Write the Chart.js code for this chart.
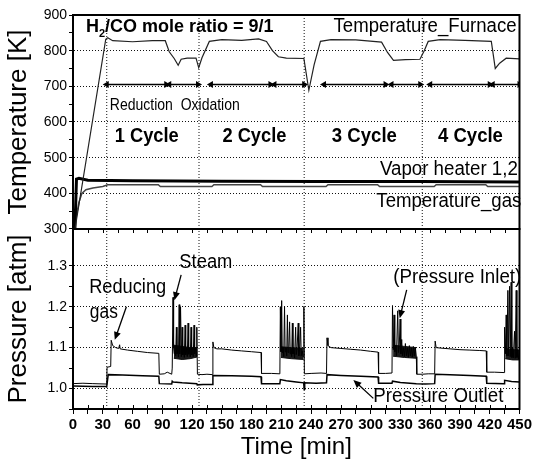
<!DOCTYPE html>
<html>
<head>
<meta charset="utf-8">
<title>H2/CO redox cycles</title>
<script src="https://cdn.jsdelivr.net/npm/chart.js@4.4.1/dist/chart.umd.min.js"></script>
<style>
  body { margin: 0; background: #fff; }
  canvas { display: block; }
</style>
</head>
<body>
<canvas id="chart" width="534" height="465"></canvas>
<script>
// [time min, value] pairs

// top panel, K
const furnaceTemp = [
  [0, 300], [2, 300], [33, 832], [35, 836], [40, 828], [60, 825], [80, 828], [93, 828],
  [97, 797], [102, 778], [106, 759], [109, 776], [115, 779], [124, 779], [126.7, 752],
  [130, 780], [137.4, 826], [150, 831], [170, 829], [187, 833], [195, 826], [201, 800],
  [207, 783], [215, 779], [232.7, 778], [237.7, 689], [243, 760], [249.4, 826], [260, 831],
  [285, 830], [311, 824], [317, 795], [323, 773], [335, 775], [349.7, 776], [354, 800],
  [358, 826], [370, 831], [395, 829], [421.6, 826], [425.6, 750], [430, 765], [436.6, 779],
  [450, 777]
];
const heaterTemp = [
  [0, 300], [2, 305], [3.5, 440], [6, 442], [15, 437], [60, 435], [150, 434], [250, 433],
  [350, 433], [450, 432]
];
const gasTemp = [
  [0, 300], [3, 330], [6, 375], [9, 400], [13, 410], [20, 415], [30, 419], [35, 424],
  [86, 424], [88, 419], [140, 419], [142, 424], [189, 424], [191, 419], [255, 419],
  [257, 424], [307, 424], [309, 419], [364, 419], [366, 424], [416, 424], [418, 419],
  [450, 419]
];

// reduction / oxidation spans marked with double arrows
const phaseSpans = [[34, 94], [97, 126], [139, 199], [203, 233], [253, 315], [321, 350], [360, 420], [423, 450]];
const phaseLevel = 705;
const cycleMarks = [34, 127, 233, 352];

// bottom panel, atm
const inletPress = [
  [0, 1.012], [10, 1.013], [20, 1.012], [34, 1.011], [34.3, 1.052], [38, 1.054], [38.5, 1.118],
  [40, 1.105], [43, 1.1], [46, 1.098], [47, 1.107], [47.5, 1.097], [55, 1.094], [65, 1.091],
  [75, 1.088], [86.5, 1.086], [87, 1.035], [92, 1.036], [95, 1.04], [99.5, 1.035],
  [100, 1.05], [100.8, 1.223], [101.4, 1.1], [102, 1.085], [102.8, 1.105], [103.5, 1.08],
  [104.2, 1.15], [104.8, 1.085], [105.5, 1.1], [106.3, 1.077], [107, 1.205], [107.6, 1.085],
  [108.4, 1.2], [109.2, 1.078], [110, 1.15], [110.6, 1.082], [111.4, 1.1], [112.2, 1.076],
  [113, 1.155], [113.6, 1.083], [114.4, 1.1], [115.2, 1.078], [116, 1.16], [116.6, 1.084],
  [117.4, 1.098], [118.2, 1.077], [119, 1.15], [119.6, 1.082], [120.4, 1.1], [121.2, 1.078],
  [122, 1.155], [122.6, 1.085], [123.4, 1.1], [124.2, 1.079], [124.8, 1.15], [125.4, 1.035],
  [130, 1.034], [135, 1.035], [140.5, 1.034], [141, 1.114], [142, 1.1], [145, 1.097],
  [150, 1.097], [160, 1.094], [170, 1.092], [180, 1.09], [189.5, 1.088], [190, 1.037],
  [200, 1.037], [208.5, 1.036],
  [209, 1.2], [209.6, 1.09], [210.3, 1.215], [210.9, 1.088], [211.6, 1.1], [212.4, 1.078],
  [213.2, 1.2], [213.8, 1.09], [214.6, 1.1], [215.4, 1.08], [216.1, 1.18], [216.7, 1.088],
  [217.5, 1.1], [218.3, 1.163], [218.9, 1.085], [219.7, 1.098], [220.4, 1.078], [221.1, 1.16],
  [221.7, 1.085], [222.5, 1.097], [223.3, 1.075], [224.4, 1.15], [225, 1.083], [225.8, 1.096],
  [227, 1.16], [227.6, 1.08], [228.4, 1.095], [229.4, 1.15], [230, 1.08], [231, 1.092],
  [232, 1.078], [232.7, 1.2], [233.2, 1.036],
  [240, 1.037], [250, 1.038], [255.5, 1.037], [256, 1.124], [257, 1.105], [260, 1.1],
  [270, 1.098], [280, 1.096], [290, 1.094], [300, 1.091], [307.5, 1.089], [308, 1.037],
  [315, 1.037], [321.5, 1.038],
  [322, 1.203], [322.8, 1.095], [323.6, 1.18], [324.3, 1.09], [325.2, 1.105], [326, 1.08],
  [327.3, 1.19], [328, 1.088], [328.8, 1.1], [329.7, 1.17], [330.4, 1.085], [331.3, 1.12],
  [332, 1.08], [333, 1.1], [334, 1.078], [335, 1.11], [336, 1.08], [337, 1.1], [338, 1.076],
  [339, 1.105], [340, 1.08], [341, 1.1], [342, 1.077], [343, 1.103], [344, 1.08], [345, 1.1],
  [346, 1.078], [346.5, 1.035],
  [352, 1.035], [358, 1.036], [364.5, 1.036], [365, 1.116], [366, 1.1], [370, 1.099],
  [380, 1.097], [390, 1.095], [400, 1.094], [410, 1.093], [416.5, 1.092], [417, 1.04],
  [425, 1.04], [434.5, 1.039],
  [435, 1.15], [435.8, 1.085], [436.6, 1.18], [437.3, 1.08], [438.3, 1.24], [439, 1.08],
  [440, 1.25], [440.7, 1.078], [441.6, 1.26], [442.3, 1.076], [443, 1.1], [443.8, 1.075],
  [445, 1.14], [445.7, 1.074], [446.7, 1.24], [447.4, 1.076], [448.2, 1.095], [449, 1.072],
  [450, 1.085]
];
const outletPress = [
  [0, 1.006], [20, 1.005], [34, 1.005], [35.5, 1.034], [50, 1.033], [70, 1.031], [86.5, 1.03],
  [87, 1.012], [99.5, 1.011], [100, 1.018], [101, 1.016], [110, 1.014], [124.8, 1.012],
  [125.2, 1.009], [131, 1.01], [140.5, 1.01], [141, 1.032], [160, 1.031], [180, 1.03],
  [189.5, 1.029], [190, 1.012], [208.5, 1.012], [209, 1.022], [215, 1.019], [225, 1.016],
  [232.5, 1.014], [233, 0.998], [233.5, 1.014], [245, 1.013], [255.5, 1.014], [256, 1.034],
  [270, 1.032], [290, 1.03], [307.5, 1.028], [308, 1.013], [321.5, 1.013], [322, 1.018],
  [330, 1.015], [346, 1.012], [355, 1.011], [364.5, 1.012], [365, 1.035], [380, 1.034],
  [400, 1.032], [416.5, 1.03], [417, 1.013], [434.5, 1.012], [435, 1.02], [442, 1.017],
  [450, 1.016]
];
// dense noise band of the inlet pressure during steam feeding (upper / lower edge)
const steamBandHigh = [
  [101.6, 1.106], [110, 1.103], [118, 1.1], [125, 1.1], [125, null],
  [209.6, 1.102], [220, 1.1], [232.5, 1.098], [232.5, null],
  [322.6, 1.106], [334, 1.103], [346, 1.1], [346, null],
  [435.6, 1.098], [443, 1.095], [450, 1.094]
];
const steamBandLow = [
  [101.6, 1.074], [110, 1.071], [118, 1.073], [125, 1.077], [125, null],
  [209.6, 1.076], [220, 1.073], [232.5, 1.071], [232.5, null],
  [322.6, 1.079], [334, 1.076], [346, 1.074], [346, null],
  [435.6, 1.073], [443, 1.07], [450, 1.07]
];

// tick labels
const timeTicks = [0, 30, 60, 90, 120, 150, 180, 210, 240, 270, 300, 330, 360, 390, 420, 450];
const tempTicks = [300, 400, 500, 600, 700, 800, 900];
const pressTicks = [1.0, 1.1, 1.2, 1.3];

// text notes, placed in data units of the panel they sit on
const FONT = '"Liberation Sans", Arial, sans-serif';
const notes = [
  { text: 'Temperature_Furnace', axis: 'yT', x: 262.6, y: 853, width: 183, font: '20px ' + FONT },
  { text: 'Reduction  Oxidation', axis: 'yT', x: 37.1, y: 634, width: 130, font: '17px ' + FONT },
  { text: '1 Cycle', axis: 'yT', x: 42.1, y: 545, width: 64, font: 'bold 20px ' + FONT },
  { text: '2 Cycle', axis: 'yT', x: 150.6, y: 545, width: 64, font: 'bold 20px ' + FONT },
  { text: '3 Cycle', axis: 'yT', x: 260.9, y: 545, width: 65, font: 'bold 20px ' + FONT },
  { text: '4 Cycle', axis: 'yT', x: 367.8, y: 545, width: 65, font: 'bold 20px ' + FONT },
  { text: 'Vapor heater 1,2', axis: 'yT', x: 309.3, y: 451, width: 138, font: '20px ' + FONT },
  { text: 'Temperature_gas', axis: 'yT', x: 305.7, y: 362.5, width: 145, font: '20px ' + FONT },
  { text: 'Reducing', axis: 'yP', x: 16.3, y: 1.233, width: 77, font: '20px ' + FONT },
  { text: 'gas', axis: 'yP', x: 17, y: 1.172, width: 28, font: '20px ' + FONT },
  { text: 'Steam', axis: 'yP', x: 107.2, y: 1.294, width: 53, font: '20px ' + FONT },
  { text: '(Pressure Inlet)', axis: 'yP', x: 322.8, y: 1.257, width: 128, font: '20px ' + FONT },
  { text: 'Pressure Outlet', axis: 'yP', x: 302.7, y: 0.968, width: 130, font: '20px ' + FONT }
];
const ratioNote = { axis: 'yT', x: 13, y: 852, width: 196, size: 18 };

// pointer arrows: tail -> head
const pointers = [
  { axis: 'yP', from: [53.8, 1.2], to: [42.1, 1.119] },
  { axis: 'yP', from: [109, 1.278], to: [102.2, 1.216] },
  { axis: 'yP', from: [336.3, 1.241], to: [329.3, 1.172] },
  { axis: 'yP', from: [302.7, 0.976], to: [282.6, 1.021] }
];

const xy = arr => arr.map(([x, y]) => ({ x, y }));

const phaseData = phaseSpans.flatMap(([a, b]) => [
  { x: a, y: phaseLevel }, { x: b, y: phaseLevel }, { x: b, y: null }
]);

// vertical dotted marks, one broken line per panel
const markLine = (lo, hi) => cycleMarks.flatMap(t => [{ x: t, y: lo }, { x: t, y: hi }, { x: t, y: null }]);

const isStep = (v, step) => Math.abs(v / step - Math.round(v / step)) < 1e-6;

function drawSqueezed(ctx, text, x, y, width) {
  const w = ctx.measureText(text).width;
  const k = Math.min(1, width / w);
  ctx.save();
  ctx.translate(x, y);
  ctx.scale(k, 1);
  ctx.fillText(text, 0, 0);
  ctx.restore();
}

const overlay = {
  id: 'overlay',
  afterDatasetsDraw(chart) {
    const { ctx, chartArea: a, scales } = chart;
    ctx.save();

    // panel frames
    ctx.strokeStyle = '#000';
    ctx.lineWidth = 2;
    ['yT', 'yP'].forEach(id => {
      const s = scales[id];
      ctx.strokeRect(a.left, s.top, a.right - a.left, s.bottom - s.top);
    });

    // inward tick marks on the panel edges
    ctx.lineWidth = 1;
    const mid = scales.yP.top;
    scales.x.ticks.forEach(tk => {
      const x = Math.round(scales.x.getPixelForValue(tk.value)) + 0.5;
      ctx.beginPath();
      ctx.moveTo(x, mid);
      ctx.lineTo(x, mid + 4);
      ctx.moveTo(x, a.bottom);
      ctx.lineTo(x, a.bottom - 4);
      ctx.stroke();
    });

    // pointer arrows
    ctx.fillStyle = '#000';
    pointers.forEach(p => {
      const s = scales[p.axis];
      const x1 = scales.x.getPixelForValue(p.from[0]), y1 = s.getPixelForValue(p.from[1]);
      const x2 = scales.x.getPixelForValue(p.to[0]), y2 = s.getPixelForValue(p.to[1]);
      const ang = Math.atan2(y2 - y1, x2 - x1);
      ctx.lineWidth = 1.3;
      ctx.beginPath();
      ctx.moveTo(x1, y1);
      ctx.lineTo(x2 - 6 * Math.cos(ang), y2 - 6 * Math.sin(ang));
      ctx.stroke();
      ctx.beginPath();
      ctx.moveTo(x2, y2);
      ctx.lineTo(x2 - 8 * Math.cos(ang) + 3.5 * Math.sin(ang), y2 - 8 * Math.sin(ang) - 3.5 * Math.cos(ang));
      ctx.lineTo(x2 - 8 * Math.cos(ang) - 3.5 * Math.sin(ang), y2 - 8 * Math.sin(ang) + 3.5 * Math.cos(ang));
      ctx.closePath();
      ctx.fill();
    });

    // text notes
    ctx.textBaseline = 'alphabetic';
    ctx.textAlign = 'left';
    notes.forEach(n => {
      ctx.font = n.font;
      drawSqueezed(ctx, n.text, scales.x.getPixelForValue(n.x), scales[n.axis].getPixelForValue(n.y), n.width);
    });

    // H2/CO mole ratio with subscript
    const big = 'bold ' + ratioNote.size + 'px ' + FONT;
    const small = 'bold ' + Math.round(ratioNote.size * 0.62) + 'px ' + FONT;
    const parts = [['H', big, 0], ['2', small, 5], ['/CO mole ratio = 9/1', big, 0]];
    let total = 0;
    parts.forEach(([t, f]) => { ctx.font = f; total += ctx.measureText(t).width; });
    const k = Math.min(1, ratioNote.width / total);
    ctx.save();
    ctx.translate(scales.x.getPixelForValue(ratioNote.x), scales[ratioNote.axis].getPixelForValue(ratioNote.y));
    ctx.scale(k, 1);
    let cx = 0;
    parts.forEach(([t, f, dy]) => {
      ctx.font = f;
      ctx.fillText(t, cx, dy);
      cx += ctx.measureText(t).width;
    });
    ctx.restore();

    ctx.restore();
  }
};

const lineBase = { pointRadius: 0, tension: 0, fill: false };
const markBase = { ...lineBase, spanGaps: false, borderColor: '#111', borderWidth: 1, borderDash: [1, 2] };

new Chart(document.getElementById('chart'), {
  type: 'line',
  data: {
    datasets: [
      { ...lineBase, label: 'Temperature_Furnace', data: xy(furnaceTemp), yAxisID: 'yT', borderColor: '#222', borderWidth: 1.2 },
      { ...lineBase, label: 'Vapor heater 1,2', data: xy(heaterTemp), yAxisID: 'yT', borderColor: '#000', borderWidth: 3 },
      { ...lineBase, label: 'Temperature_gas', data: xy(gasTemp), yAxisID: 'yT', borderColor: '#444', borderWidth: 1.5 },
      {
        label: 'phases', data: phaseData, yAxisID: 'yT', tension: 0, spanGaps: false,
        borderColor: '#000', borderWidth: 1.5, backgroundColor: '#000',
        pointStyle: 'triangle', pointBorderWidth: 0,
        pointRadius: c => (c.dataIndex % 3 === 2 ? 0 : 4),
        pointRotation: c => (c.dataIndex % 3 === 0 ? 270 : 90)
      },
      { ...lineBase, label: 'Pressure Inlet', data: xy(inletPress), yAxisID: 'yP', borderColor: '#000', borderWidth: 1 },
      { ...lineBase, label: 'Pressure Outlet', data: xy(outletPress), yAxisID: 'yP', borderColor: '#000', borderWidth: 1.5 },
      { ...lineBase, label: 'steam band high', data: xy(steamBandHigh), yAxisID: 'yP', spanGaps: false, borderColor: '#111', borderWidth: 1 },
      {
        ...lineBase, label: 'steam band low', data: xy(steamBandLow), yAxisID: 'yP', spanGaps: false,
        borderColor: '#111', borderWidth: 1, fill: '-1', backgroundColor: '#1a1a1a'
      },
      { ...markBase, label: 'cycle marks T', data: markLine(300, 900), yAxisID: 'yT' },
      { ...markBase, label: 'cycle marks P', data: markLine(0.95, 1.39), yAxisID: 'yP' }
    ]
  },
  options: {
    responsive: false,
    animation: false,
    layout: { padding: { top: 15, right: 12, left: 0, bottom: 0 } },
    plugins: { legend: { display: false }, tooltip: { enabled: false } },
    scales: {
      x: {
        type: 'linear', min: 0, max: 450,
        afterFit: s => { s.height = 56; },
        grid: { drawOnChartArea: false, color: '#000', tickLength: 5 },
        border: { color: '#000', width: 2 },
        ticks: {
          stepSize: 15, autoSkip: false, maxRotation: 0, padding: 2, color: '#000',
          font: { family: '"Liberation Sans Narrow", "Liberation Sans", Arial, sans-serif', size: 15, weight: 'bold' },
          callback: v => (timeTicks.includes(v) ? String(v) : '')
        },
        title: {
          display: true, text: 'Time [min]', color: '#000',
          font: { family: FONT, size: 24 }, padding: { top: 0, bottom: 3 }
        }
      },
      yP: {
        type: 'linear', position: 'left', stack: 'panels', stackWeight: 180,
        min: 0.95, max: 1.39,
        afterFit: s => { s.width = 73; },
        grid: {
          color: c => (c.tick && isStep(c.tick.value, 0.1) ? '#111' : 'rgba(0,0,0,0)'),
          tickColor: c => (c.tick && isStep(c.tick.value, 0.05) ? '#000' : 'rgba(0,0,0,0)'),
          tickLength: 4
        },
        border: { color: '#000', width: 2, dash: [1, 2] },
        ticks: {
          stepSize: 0.05, autoSkip: false, padding: 2, color: '#000',
          font: { family: FONT, size: 14 },
          callback: v => (pressTicks.some(p => Math.abs(p - v) < 1e-6) ? v.toFixed(1) : '')
        },
        title: {
          display: true, text: 'Pressure [atm]', color: '#000',
          font: { family: FONT, size: 26 }, padding: { top: 3, bottom: 0 }
        }
      },
      yT: {
        type: 'linear', position: 'left', stack: 'panels', stackWeight: 214,
        min: 300, max: 900,
        afterFit: s => { s.width = 73; },
        grid: {
          color: c => (c.tick && c.tick.value % 100 === 0 ? '#111' : 'rgba(0,0,0,0)'),
          tickColor: '#000',
          tickLength: 4
        },
        border: { color: '#000', width: 2, dash: [1, 2] },
        ticks: {
          stepSize: 50, autoSkip: false, padding: 2, color: '#000',
          font: { family: FONT, size: 14 },
          callback: v => (tempTicks.includes(v) ? String(v) : '')
        },
        title: {
          display: true, text: 'Temperature [K]', color: '#000',
          font: { family: FONT, size: 26 }, padding: { top: 3, bottom: 0 }
        }
      }
    }
  },
  plugins: [overlay]
});
</script>
</body>
</html>
